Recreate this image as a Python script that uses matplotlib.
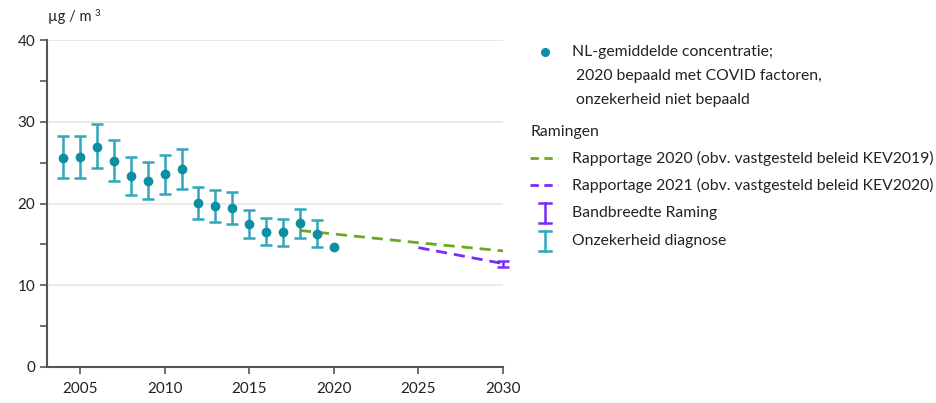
import matplotlib
matplotlib.use("Agg")
import matplotlib.pyplot as plt
from matplotlib.lines import Line2D

plt.rcParams['font.family'] = ['Lato', 'DejaVu Sans']

years = [2004, 2005, 2006, 2007, 2008, 2009, 2010, 2011, 2012, 2013, 2014,
         2015, 2016, 2017, 2018, 2019, 2020]
conc = [25.6, 25.7, 26.9, 25.2, 23.4, 22.8, 23.6, 24.2, 20.1, 19.7, 19.4,
        17.5, 16.5, 16.5, 17.6, 16.3, 14.7]
err_years = years[:-1]
err_low = [23.1, 23.1, 24.3, 22.7, 21.0, 20.5, 21.2, 21.8, 18.1, 17.7, 17.5,
           15.8, 14.9, 14.8, 15.8, 14.7]
err_high = [28.2, 28.3, 29.7, 27.8, 25.7, 25.1, 25.9, 26.7, 22.0, 21.6, 21.4,
            19.2, 18.2, 18.1, 19.3, 18.0]

proj2020_years = [2018, 2025, 2030]
proj2020_vals = [16.7, 15.2, 14.2]
proj2021_years = [2025, 2030]
proj2021_vals = [14.6, 12.65]
band_year = [2030]
band_low = [12.25]
band_high = [13.0]

xticks = [2005, 2010, 2015, 2020, 2025, 2030]
yticks = [0, 10, 20, 30, 40]

C_DOT = '#0b8fa3'
C_ERR = '#2fa7bb'
C_GREEN = '#6ea820'
C_PURPLE = '#7a2cf5'
C_AXIS = '#555555'
C_TEXT = '#222222'

fig = plt.figure(figsize=(9.36, 4.03), dpi=100)
ax = fig.add_axes([47/936, 1-367/403, 456/936, 327/403])

ax.set_xlim(2003.05, 2030)
ax.set_ylim(0, 40)

for y in [10, 20, 30, 40]:
    ax.axhline(y, color='#e6e6e6', lw=1.2, zorder=0)

# error bars
for x, lo, hi in zip(err_years, err_low, err_high):
    ax.errorbar([x], [(lo+hi)/2], yerr=[[(hi-lo)/2], [(hi-lo)/2]], fmt='none',
                ecolor=C_ERR, elinewidth=1.8, capsize=4.5, capthick=1.8, zorder=2)

ax.plot(proj2020_years, proj2020_vals, color=C_GREEN, lw=2, ls=(0, (4, 2.5)), zorder=3)
ax.plot(proj2021_years, proj2021_vals, color=C_PURPLE, lw=2, ls=(0, (4, 2.5)), zorder=3)
for x, lo, hi in zip(band_year, band_low, band_high):
    ax.errorbar([x], [(lo+hi)/2], yerr=[[(hi-lo)/2], [(hi-lo)/2]], fmt='none',
                ecolor=C_PURPLE, elinewidth=1.8, capsize=4.5, capthick=1.8, zorder=3,
                clip_on=False)

ax.plot(years, conc, 'o', color=C_DOT, ms=6, zorder=4)

for s in ['top', 'right']:
    ax.spines[s].set_visible(False)
for s in ['left', 'bottom']:
    ax.spines[s].set_color(C_AXIS)
    ax.spines[s].set_linewidth(1.5)

ax.set_xticks(xticks)
ax.set_yticks(yticks)
ax.set_yticks([5, 15, 25, 35], minor=True)
ax.tick_params(axis='both', colors=C_AXIS, labelcolor=C_TEXT, labelsize=11,
               length=5, width=1.2)
ax.tick_params(axis='y', which='minor', length=5, width=1.2, colors=C_AXIS)
ax.tick_params(axis='x', pad=6)

fig.text(48/936, 1-17/403, 'µg / m', fontsize=10.5, color=C_TEXT, va='center', ha='left')
fig.text(95/936, 1-13/403, '3', fontsize=7, color=C_TEXT, va='center', ha='left')

# legend
def fx(px):
    return px/936
def fy(py):
    return 1-py/403

fs = 11.3
tx = 572
fig.add_artist(Line2D([fx(545)], [fy(52)], marker='o', color=C_DOT, ms=5.5, ls='none'))
fig.text(fx(tx), fy(52), 'NL-gemiddelde concentratie;', fontsize=fs, color=C_TEXT, va='center')
fig.text(fx(tx+4), fy(76), '2020 bepaald met COVID factoren,', fontsize=fs, color=C_TEXT, va='center')
fig.text(fx(tx+4), fy(100), 'onzekerheid niet bepaald', fontsize=fs, color=C_TEXT, va='center')
fig.text(fx(531), fy(132), 'Ramingen', fontsize=fs, color=C_TEXT, va='center')
fig.add_artist(Line2D([fx(530), fx(558)], [fy(158), fy(158)], color=C_GREEN, lw=2, ls=(0, (3, 2))))
fig.text(fx(tx), fy(158), 'Rapportage 2020 (obv. vastgesteld beleid KEV2019)', fontsize=fs, color=C_TEXT, va='center')
fig.add_artist(Line2D([fx(530), fx(558)], [fy(185), fy(185)], color=C_PURPLE, lw=2, ls=(0, (3, 2))))
fig.text(fx(tx), fy(185), 'Rapportage 2021 (obv. vastgesteld beleid KEV2020)', fontsize=fs, color=C_TEXT, va='center')

def legend_err(y0, y1, col):
    fig.add_artist(Line2D([fx(545), fx(545)], [fy(y0), fy(y1)], color=col, lw=1.8))
    fig.add_artist(Line2D([fx(539), fx(551)], [fy(y0), fy(y0)], color=col, lw=1.8))
    fig.add_artist(Line2D([fx(539), fx(551)], [fy(y1), fy(y1)], color=col, lw=1.8))

legend_err(203, 223, C_PURPLE)
fig.text(fx(tx), fy(213), 'Bandbreedte Raming', fontsize=fs, color=C_TEXT, va='center')
legend_err(231, 251, C_ERR)
fig.text(fx(tx), fy(241), 'Onzekerheid diagnose', fontsize=fs, color=C_TEXT, va='center')

fig.savefig('out.png', dpi=100)
